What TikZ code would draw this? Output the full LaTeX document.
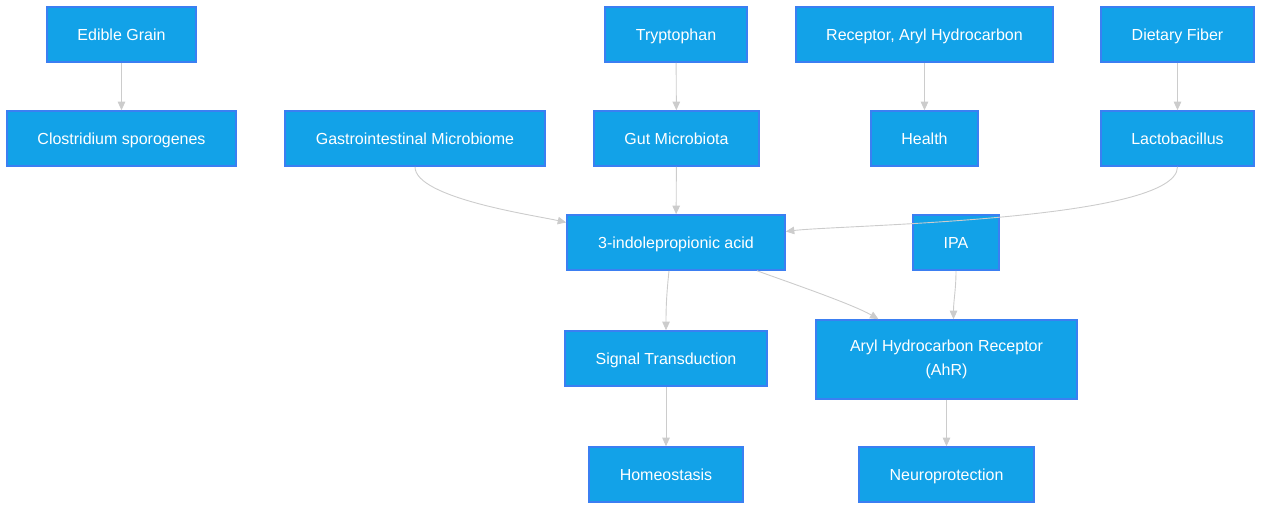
\documentclass[tikz,border=0pt]{standalone}
\usepackage{fontspec}
\setmainfont{Liberation Sans}
\usepackage{tikz}
\usetikzlibrary{arrows.meta}
\definecolor{boxfill}{HTML}{12A2E8}
\definecolor{boxline}{HTML}{3B7FF2}
\definecolor{linkgray}{HTML}{CCCCCC}

\begin{document}
\begin{tikzpicture}[x=1pt,y=-1pt,>={Triangle[length=8.5pt,width=7.5pt]},
  every node/.style={font=\fontsize{16}{24}\selectfont},
  box/.style={draw=boxline,line width=1.6pt,fill=boxfill,text=white,minimum height=55pt,inner sep=0pt,align=center,text height=16.5pt,text depth=4pt},
  link/.style={->,draw=linkgray,line width=0.9pt}]
  \useasboundingbox (0,0) rectangle (1262,510);

  \node [box,minimum width=149pt] (grain) at (121.5,34.5) {Edible Grain};
  \node [box,minimum width=229pt] (clos) at (121.5,138.5) {Clostridium sporogenes};
  \node [box,minimum width=260pt] (gim) at (415,138.5) {Gastrointestinal Microbiome};
  \node [box,minimum width=142pt] (trp) at (676,34.5) {Tryptophan};
  \node [box,minimum width=165pt] (gut) at (676.5,138.5) {Gut Microbiota};
  \node [box,minimum width=257pt] (rah) at (924.5,34.5) {Receptor, Aryl Hydrocarbon};
  \node [box,minimum width=107pt] (health) at (924.5,138.5) {Health};
  \node [box,minimum width=153pt] (fiber) at (1177.5,34.5) {Dietary Fiber};
  \node [box,minimum width=153pt] (lacto) at (1177.5,138.5) {Lactobacillus};
  \node [box,minimum width=218pt] (ipa3) at (676,242.5) {3-indolepropionic acid};
  \node [box,minimum width=86pt] (ipa) at (956,242.5) {IPA};
  \node [box,minimum width=202pt] (sig) at (666,358.5) {Signal Transduction};
  \node [box,minimum width=261pt,minimum height=79pt,text height=,text depth=] (ahr) at (946.5,359.5) {Aryl Hydrocarbon Receptor\\(AhR)};
  \node [box,minimum width=154pt] (homeo) at (666,474.5) {Homeostasis};
  \node [box,minimum width=175pt] (neuro) at (946.5,474.5) {Neuroprotection};

  \draw[link] (grain) -- (clos);
  \draw[link] (trp) -- (gut);
  \draw[link] (rah) -- (health);
  \draw[link] (fiber) -- (lacto);
  \draw[link] (gut) -- (ipa3);

  \draw[link] (gim.south) to[out=-90,in=167,looseness=0.5] ([yshift=20pt]ipa3.west);
  \draw[link] (lacto.south) to[out=-90,in=7,looseness=0.35] ([yshift=11pt]ipa3.east);

  \draw[link] ([xshift=-7pt]ipa3.south) to[out=-96,in=90] (sig.north);
  \draw[link] ([xshift=81pt]ipa3.south) to[out=-20,in=150,looseness=0.6] ([xshift=-68pt]ahr.north);
  \draw[link] (ipa.south) to[out=-90,in=90] ([xshift=7pt]ahr.north);

  \draw[link] (sig) -- (homeo);
  \draw[link] (ahr) -- (neuro);

\end{tikzpicture}
\end{document}
